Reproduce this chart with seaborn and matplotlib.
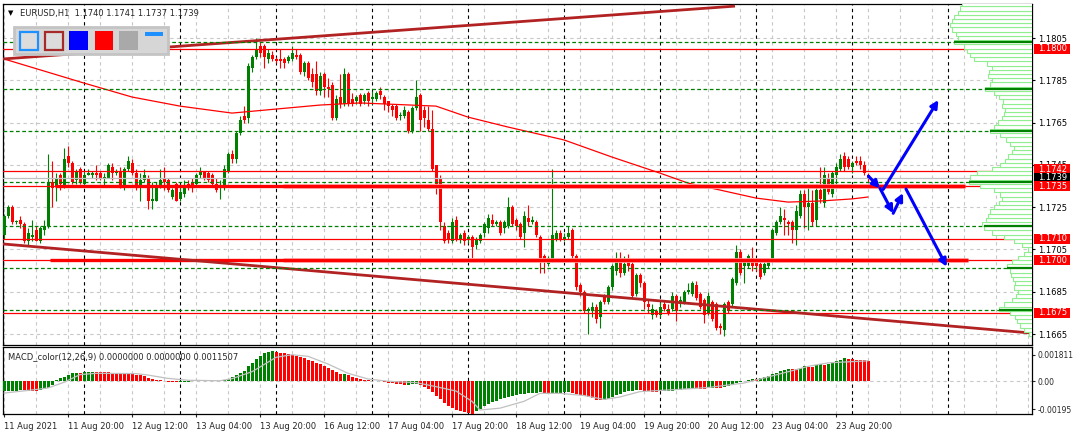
import numpy as np
import matplotlib
matplotlib.use("Agg")
import matplotlib.pyplot as plt
import seaborn as sns
from matplotlib.patches import Rectangle
from matplotlib.transforms import blended_transform_factory

# ------------------------------------------------------------------ data
opens = [1.1712,1.1721,1.1725,1.1718,1.1719,1.1717,1.1709,1.1711,1.1714,1.1709,
 1.1714,1.1716,1.1737,1.1735,1.1740,1.1735,1.1749,1.1746,1.1738,1.1743,
 1.1736,1.1740,1.1740,1.1741,1.1741,1.1739,1.1739,1.1744,1.1741,1.1742,
 1.1735,1.1743,1.1746,1.1741,1.1735,1.1738,1.1739,1.1728,1.1728,1.1735,
 1.1739,1.1738,1.1730,1.1736,1.1729,1.1731,1.1736,1.1737,1.1736,1.1740,
 1.1742,1.1741,1.1740,1.1736,1.1734,1.1735,1.1742,1.1750,1.1748,1.1760,
 1.1768,1.1767,1.1791,1.1796,1.1801,1.1801,1.1795,1.1797,1.1795,1.1795,
 1.1795,1.1794,1.1795,1.1797,1.1797,1.1789,1.1793,1.1788,1.1788,1.1780,
 1.1788,1.1782,1.1783,1.1767,1.1777,1.1774,1.1788,1.1776,1.1775,1.1778,
 1.1775,1.1779,1.1776,1.1776,1.1780,1.1777,1.1775,1.1773,1.1773,1.1768,
 1.1768,1.1770,1.1761,1.1772,1.1778,1.1771,1.1766,1.1762,1.1745,1.1739,
 1.1716,1.1713,1.1709,1.1719,1.1710,1.1713,1.1710,1.1711,1.1707,1.1709,
 1.1713,1.1715,1.1719,1.1717,1.1718,1.1715,1.1716,1.1725,1.1719,1.1717,
 1.1713,1.1720,1.1718,1.1718,1.1711,1.1702,1.1698,1.1700,1.1710,1.1713,
 1.1710,1.1711,1.1714,1.1702,1.1688,1.1685,1.1676,1.1676,1.1678,1.1673,
 1.1683,1.1680,1.1687,1.1695,1.1699,1.1694,1.1700,1.1698,1.1684,1.1693,
 1.1689,1.1679,1.1674,1.1676,1.1674,1.1679,1.1677,1.1677,1.1683,1.1679,
 1.1680,1.1685,1.1684,1.1688,1.1684,1.1681,1.1675,1.1680,1.1679,1.1669,
 1.1667,1.1680,1.1679,1.1689,1.1704,1.1697,1.1697,1.1701,1.1699,1.1698,
 1.1694,1.1697,1.1700,1.1713,1.1718,1.1720,1.1718,1.1718,1.1714,1.1721,
 1.1731,1.1725,1.1727,1.1719,1.1733,1.1727,1.1739,1.1731,1.1740,1.1743,
 1.1749,1.1748,1.1744,1.1747,1.1747,1.1745,1.1740]
highs = [1.1722,1.1726,1.1726,1.1719,1.1721,1.1718,1.1715,1.1719,1.1716,1.1716,
 1.1719,1.1750,1.1747,1.1741,1.1741,1.1753,1.1754,1.1747,1.1743,1.1744,
 1.1742,1.1743,1.1742,1.1745,1.1742,1.1741,1.1746,1.1746,1.1743,1.1744,
 1.1744,1.1749,1.1748,1.1743,1.1741,1.1743,1.1740,1.1737,1.1737,1.1743,
 1.1744,1.1739,1.1734,1.1737,1.1736,1.1738,1.1738,1.1739,1.1741,1.1744,
 1.1742,1.1742,1.1741,1.1739,1.1738,1.1745,1.1751,1.1752,1.1761,1.1768,
 1.1773,1.1793,1.1797,1.1805,1.1803,1.1802,1.1800,1.1799,1.1796,1.1800,
 1.1796,1.1797,1.1801,1.1800,1.1798,1.1794,1.1794,1.1791,1.1794,1.1789,
 1.1789,1.1786,1.1784,1.1778,1.1788,1.1791,1.1789,1.1779,1.1778,1.1779,
 1.1779,1.1780,1.1780,1.1780,1.1782,1.1778,1.1775,1.1774,1.1774,1.1770,
 1.1773,1.1771,1.1773,1.1785,1.1779,1.1773,1.1773,1.1771,1.1745,1.1740,
 1.1718,1.1714,1.1720,1.1721,1.1713,1.1714,1.1712,1.1712,1.1711,1.1713,
 1.1718,1.1722,1.1722,1.1719,1.1719,1.1719,1.1730,1.1726,1.1720,1.1718,
 1.1723,1.1726,1.1721,1.1719,1.1712,1.1703,1.1702,1.1743,1.1714,1.1714,
 1.1713,1.1716,1.1715,1.1703,1.1689,1.1686,1.1678,1.1680,1.1679,1.1681,
 1.1684,1.1688,1.1698,1.1704,1.1704,1.1702,1.1703,1.1699,1.1694,1.1694,
 1.1690,1.1681,1.1679,1.1677,1.1680,1.1681,1.1679,1.1685,1.1684,1.1683,
 1.1686,1.1689,1.1690,1.1690,1.1685,1.1682,1.1685,1.1681,1.1680,1.1670,
 1.1680,1.1681,1.1692,1.1707,1.1705,1.1700,1.1703,1.1706,1.1701,1.1699,
 1.1699,1.1700,1.1715,1.1719,1.1725,1.1724,1.1719,1.1719,1.1726,1.1733,
 1.1733,1.1735,1.1733,1.1736,1.1744,1.1744,1.1741,1.1742,1.1746,1.1750,
 1.1751,1.1749,1.1747,1.1749,1.1749,1.1747,1.1741]
lows = [1.1710,1.1720,1.1717,1.1717,1.1715,1.1708,1.1707,1.1709,1.1709,1.1708,
 1.1712,1.1715,1.1725,1.1728,1.1733,1.1734,1.1744,1.1736,1.1736,1.1736,
 1.1735,1.1740,1.1739,1.1738,1.1738,1.1735,1.1739,1.1738,1.1740,1.1734,
 1.1733,1.1742,1.1740,1.1733,1.1728,1.1737,1.1724,1.1724,1.1728,1.1734,
 1.1733,1.1732,1.1729,1.1728,1.1728,1.1730,1.1733,1.1732,1.1735,1.1739,
 1.1738,1.1737,1.1735,1.1732,1.1729,1.1733,1.1741,1.1746,1.1746,1.1759,
 1.1765,1.1765,1.1789,1.1795,1.1796,1.1791,1.1793,1.1794,1.1793,1.1791,
 1.1791,1.1793,1.1794,1.1795,1.1788,1.1787,1.1785,1.1782,1.1778,1.1778,
 1.1777,1.1777,1.1766,1.1766,1.1772,1.1773,1.1773,1.1773,1.1774,1.1773,
 1.1774,1.1773,1.1774,1.1775,1.1776,1.1771,1.1770,1.1768,1.1766,1.1766,
 1.1767,1.1760,1.1760,1.1771,1.1761,1.1763,1.1761,1.1742,1.1731,1.1714,
 1.1708,1.1708,1.1708,1.1709,1.1708,1.1707,1.1708,1.1701,1.1705,1.1708,
 1.1711,1.1713,1.1716,1.1716,1.1712,1.1713,1.1715,1.1716,1.1714,1.1710,
 1.1706,1.1716,1.1717,1.1711,1.1694,1.1694,1.1697,1.1699,1.1709,1.1709,
 1.1709,1.1710,1.1701,1.1686,1.1683,1.1675,1.1665,1.1673,1.1670,1.1668,
 1.1679,1.1679,1.1686,1.1693,1.1692,1.1693,1.1695,1.1682,1.1683,1.1687,
 1.1677,1.1675,1.1672,1.1673,1.1673,1.1676,1.1674,1.1676,1.1671,1.1678,
 1.1679,1.1684,1.1683,1.1681,1.1677,1.1670,1.1674,1.1671,1.1667,1.1665,
 1.1664,1.1675,1.1678,1.1688,1.1693,1.1689,1.1696,1.1695,1.1695,1.1691,
 1.1693,1.1696,1.1699,1.1712,1.1717,1.1712,1.1712,1.1708,1.1707,1.1720,
 1.1715,1.1714,1.1716,1.1716,1.1727,1.1725,1.1731,1.1730,1.1734,1.1742,
 1.1742,1.1743,1.1741,1.1745,1.1743,1.1740,1.1737]
closes = [1.1721,1.1725,1.1718,1.1718,1.1717,1.1709,1.1713,1.1712,1.1709,1.1715,
 1.1716,1.1737,1.1734,1.1739,1.1736,1.1748,1.1746,1.1737,1.1742,1.1737,
 1.1740,1.1741,1.1741,1.1740,1.1739,1.1739,1.1745,1.1741,1.1742,1.1735,
 1.1743,1.1747,1.1741,1.1735,1.1738,1.1740,1.1728,1.1729,1.1734,1.1738,
 1.1737,1.1733,1.1733,1.1728,1.1732,1.1735,1.1735,1.1735,1.1740,1.1742,
 1.1739,1.1738,1.1736,1.1733,1.1735,1.1743,1.1750,1.1748,1.1760,1.1766,
 1.1766,1.1792,1.1796,1.1800,1.1798,1.1796,1.1798,1.1795,1.1794,1.1794,
 1.1793,1.1796,1.1798,1.1796,1.1789,1.1793,1.1786,1.1784,1.1780,1.1787,
 1.1782,1.1781,1.1767,1.1776,1.1774,1.1788,1.1774,1.1774,1.1777,1.1774,
 1.1778,1.1775,1.1777,1.1779,1.1778,1.1774,1.1773,1.1771,1.1767,1.1768,
 1.1771,1.1761,1.1772,1.1777,1.1766,1.1767,1.1762,1.1743,1.1736,1.1718,
 1.1709,1.1710,1.1718,1.1710,1.1712,1.1709,1.1711,1.1706,1.1710,1.1712,
 1.1717,1.1720,1.1717,1.1718,1.1713,1.1718,1.1725,1.1717,1.1716,1.1711,
 1.1721,1.1718,1.1719,1.1712,1.1701,1.1699,1.1701,1.1712,1.1713,1.1710,
 1.1711,1.1713,1.1702,1.1687,1.1685,1.1676,1.1677,1.1678,1.1672,1.1680,
 1.1680,1.1687,1.1697,1.1699,1.1694,1.1698,1.1697,1.1683,1.1693,1.1689,
 1.1680,1.1678,1.1677,1.1674,1.1678,1.1677,1.1675,1.1683,1.1676,1.1681,
 1.1685,1.1686,1.1689,1.1682,1.1678,1.1674,1.1683,1.1672,1.1668,1.1668,
 1.1679,1.1676,1.1691,1.1704,1.1694,1.1699,1.1702,1.1697,1.1697,1.1692,
 1.1698,1.1699,1.1714,1.1718,1.1721,1.1719,1.1717,1.1714,1.1723,1.1731,
 1.1725,1.1727,1.1718,1.1733,1.1729,1.1740,1.1732,1.1741,1.1744,1.1748,
 1.1744,1.1744,1.1746,1.1746,1.1745,1.1741,1.1739]

# moving average (red thin line) sampled along the chart
ma_idx = [0, 20, 32, 44, 57, 68, 79, 89, 108, 116, 126, 140, 152, 164, 171, 179, 188, 196, 204, 212, 216]
ma_val = [1.17951, 1.17837, 1.17771, 1.17728, 1.17695, 1.17714, 1.17733, 1.17743, 1.17728, 1.17676,
          1.17629, 1.17568, 1.17487, 1.17411, 1.17364, 1.17331, 1.17293, 1.17274, 1.17279, 1.17289, 1.17298]

# MACD histogram in units of 1e-5
macd_hist_e5 = [-72,-70,-68,-66,-64,-65,-66,-67,-68,-62,
 -55,-45,-30,7,18,30,42,52,58,57,
 59,62,63,62,61,60,59,58,57,55,
 53,51,48,44,40,32,24,16,10,5,
 0,-4,-7,-9,-8,-7,-6,-2,2,4,
 3,1,-1,-2,0,4,12,25,40,55,
 70,100,125,150,175,192,202,205,200,196,
 192,186,180,172,164,155,146,136,125,114,
 102,90,76,60,48,50,38,28,20,14,
 9,5,2,1,-2,-6,-11,-16,-20,-24,
 -27,-25,-22,-20,-28,-40,-55,-75,-100,-125,
 -150,-170,-186,-198,-208,-216,-221,-224,-205,-190,
 -175,-160,-148,-136,-126,-118,-108,-102,-96,-92,
 -88,-85,-83,-81,-79,-84,-88,-85,-82,-80,
 -78,-77,-82,-90,-98,-106,-113,-120,-128,-134,
 -130,-122,-110,-98,-88,-78,-70,-66,-63,-64,
 -68,-72,-74,-75,-72,-70,-68,-66,-63,-60,
 -56,-52,-48,-50,-52,-54,-50,-45,-48,-50,
 -42,-35,-25,-12,-5,3,10,16,14,20,
 28,36,46,58,70,78,84,82,80,90,
 100,98,95,108,115,112,118,128,138,148,
 155,152,150,148,145,142,140]
# MACD signal line (gray), units of 1e-5
sig_idx = [0,7,11,15,19,23,33,36,41,46,54,57,62,65,68,72,76,81,86,91,96,103,108,113,117,119,124,
           130,134,139,145,150,154,159,168,176,185,188,193,198,201,206,216]
sig_e5 = [-83,-62,-48,-9,44,53,51,41,18,5,2,16,64,113,163,181,170,117,53,14,-2,-11,-39,-69,-140,-200,-187,
          -140,-85,-85,-100,-127,-110,-73,-59,-45,-14,7,42,78,101,125,139]

# time axis
xt_idx = [0, 16, 32, 48, 64, 80, 96, 112, 128, 144, 160, 176, 192, 208]
xt_lab = ["11 Aug 2021", "11 Aug 20:00", "12 Aug 12:00", "13 Aug 04:00", "13 Aug 20:00",
          "16 Aug 12:00", "17 Aug 04:00", "17 Aug 20:00", "18 Aug 12:00", "19 Aug 04:00",
          "19 Aug 20:00", "20 Aug 12:00", "23 Aug 04:00", "23 Aug 20:00"]
day_start_idx = [20, 44, 68, 92, 116, 140, 164, 188, 212, 236]

# price axis
price_ticks = [1.1665, 1.1685, 1.1705, 1.1725, 1.1745, 1.1765, 1.1785, 1.1805]
thin_levels = [1.1800, 1.1742, 1.1735, 1.1710, 1.1700, 1.1675]
thick_levels = [1.1735, 1.1700]
thick_start = [12.75, 11.5]
thick_end = [240.25, 241.0]
bid_price = 1.1739
label_prices = [1.1800, 1.1742, 1.1739, 1.1735, 1.1710, 1.1700, 1.1675]
label_kinds = ["level", "level", "bid", "level", "level", "level", "level"]
label_shift_px = [0, -2, 0, 0, 0, 0, 0]

# trend lines
trend_x = [[-0.25, 182.75], [-0.25, 256.5]]
trend_y = [[1.17951, 1.18201], [1.17076, 1.16655]]

# forecast arrows (bar index, price)
arrow_from = [(216.1, 1.17397), (219.8, 1.17334), (219.0, 1.17339), (222.3, 1.17221), (225.5, 1.17336)]
arrow_to = [(219.0, 1.17339), (233.6, 1.17757), (222.3, 1.17221), (224.75, 1.17317), (235.7, 1.16968)]

# volume profile (rows of 0.0002 from 1.1665)
profile_start = 1.1665
profile_step = 0.0002
profile_vol = [3,8,12,15,17,22,33,28,20,16,
 14,18,17,19,21,22,25,20,14,8,
 4,10,18,28,40,48,50,46,44,42,
 38,33,30,32,38,52,63,62,55,40,
 32,27,24,20,18,22,26,32,42,38,
 34,30,28,27,30,29,33,38,47,42,
 40,44,43,40,45,58,62,65,68,78,
 74,76,80,82,80,78,74,72,70]
poc_levels = [1.1803, 1.17807, 1.1761, 1.17368, 1.17159, 1.16962, 1.16765]

# ------------------------------------------------------------------ style
sns.set_style("white")
plt.rcParams['font.family'] = ['DejaVu Sans']
FS = 6

W, H = 1075, 438
fig = plt.figure(figsize=(W / 100, H / 100), dpi=100)
fig.patch.set_facecolor("white")

ax = fig.add_axes([3 / W, 1 - 345 / H, 1029 / W, 341 / H])
ax2 = fig.add_axes([3 / W, 1 - 414 / H, 1029 / W, 67 / H])
XMIN = -0.25
XMAX = XMIN + 1029 / 4.0
PY0, PY1 = 1.16598, 1.18211
MY0, MY1 = -0.002273, 0.002342

GREEN = "#008000"
RED = "#FF0000"
GRIDC = "#C8C8C8"
DASH = (0, (3, 3))

for a in (ax, ax2):
    a.set_xlim(XMIN, XMAX)
    a.set_facecolor("white")
    for s in a.spines.values():
        s.set_color("black")
        s.set_linewidth(0.9)
    for gx in np.arange(0, XMAX, 8):
        a.axvline(gx, color=GRIDC, lw=0.8, ls=DASH, zorder=0.5)
    for gx in day_start_idx:
        a.axvline(gx, color="black", lw=0.8, ls=DASH, zorder=0.6)
ax.set_ylim(PY0, PY1)
ax2.set_ylim(MY0, MY1)

for p in price_ticks:
    ax.axhline(p, color=GRIDC, lw=0.8, ls=DASH, zorder=0.5)
ax2.axhline(0, color=GRIDC, lw=0.8, ls=DASH, zorder=0.5)

# ------------------------------------------------------------------ candles
idx = np.arange(len(closes))
o = np.array(opens); c = np.array(closes); h = np.array(highs); l = np.array(lows)
up = c >= o
cols = np.where(up, GREEN, RED)
lo = np.minimum(l, np.minimum(o, c)); hi = np.maximum(h, np.maximum(o, c))
ax.vlines(idx, lo, hi, colors=cols, lw=0.8, zorder=3)
body_b = np.minimum(o, c)
body_h = np.maximum(np.abs(c - o), 0.00004)
ax.bar(idx, body_h, bottom=body_b, width=0.75, color=cols, lw=0, zorder=3.1)

# moving average
sns.lineplot(x=ma_idx, y=ma_val, ax=ax, color=RED, linewidth=0.9, legend=False, zorder=4)

# levels
ax.axhline(bid_price, color="#C0C0C0", lw=0.9, zorder=3.5)
for p in thin_levels:
    ax.axhline(p, color=RED, lw=0.9, zorder=4)
for p, s, e in zip(thick_levels, thick_start, thick_end):
    ax.hlines(p, 69.75, e, color="#FFB0B0", lw=3.4, zorder=4.1)
    ax.hlines(p, s, e, color=RED, lw=2.4, zorder=4.2)

# trend lines
for tx, ty in zip(trend_x, trend_y):
    ax.plot(tx, ty, color="#B22222", lw=2.0, zorder=4.3, solid_capstyle="butt")

# volume profile
prof_p = profile_start + profile_step * np.arange(len(profile_vol))
prof_w = np.array(profile_vol) / 4.0
ax.barh(prof_p, prof_w, left=XMAX - prof_w, height=profile_step, color="white",
        edgecolor="#90EE90", lw=0.8, zorder=5)
for p in poc_levels:
    k = int(np.argmin(np.abs(prof_p - p)))
    w = prof_w[k]
    ax.hlines(p, XMIN, XMAX - w, color=GREEN, lw=0.9, linestyles=(0, (3, 2)), zorder=4.4)
    ax.hlines(p, XMAX - w, XMAX, color=GREEN, lw=1.6, zorder=5.5)

# arrows
for (x0, y0), (x1, y1) in zip(arrow_from, arrow_to):
    ax.annotate("", xy=(x1, y1), xytext=(x0, y0),
                arrowprops=dict(arrowstyle="-|>", color="#0000FF", lw=2.2,
                                mutation_scale=11, shrinkA=0, shrinkB=0), zorder=7)

# price axis
ax.yaxis.tick_right()
ax.set_yticks(price_ticks)
ax.set_yticklabels([f"{p:.4f}" for p in price_ticks])
ax.tick_params(axis="y", right=True, left=False, length=2.5, width=0.8, pad=2, labelsize=FS, colors="black")
ax.tick_params(axis="x", bottom=False, labelbottom=False)
ax.set_xlabel(""); ax.set_ylabel("")

tr = blended_transform_factory(ax.transAxes, ax.transData)
unit_px = (PY1 - PY0) / 341
box_h = 10 * unit_px
for p, kind, sh in zip(label_prices, label_kinds, label_shift_px):
    fc = "black" if kind == "bid" else RED
    yc = p - sh * unit_px
    ax.add_patch(Rectangle(((1034 - 3) / 1029, yc - box_h / 2), 36 / 1029, box_h,
                           transform=tr, fc=fc, ec="none", clip_on=False, zorder=10))
    ax.text((1038 - 3) / 1029, yc, f"{p:.4f}", transform=tr, color="white", fontsize=FS,
            va="center", ha="left", clip_on=False, zorder=11)

# ------------------------------------------------------------------ MACD
mh = np.array(macd_hist_e5) * 1e-5
diff = np.diff(mh, prepend=mh[0] - 1e-9)
mcols = np.where(diff >= 0, GREEN, RED)
ax2.bar(np.arange(len(mh)), mh, width=0.75, color=mcols, lw=0, zorder=3)
sns.lineplot(x=sig_idx, y=np.array(sig_e5) * 1e-5, ax=ax2, color="#C0C0C0", linewidth=0.9,
             legend=False, zorder=4)
ax2.yaxis.tick_right()
ax2.set_yticks([-0.00195, 0.0, 0.001811])
ax2.set_yticklabels(["-0.00195", "0.00", "0.001811"])
ax2.tick_params(axis="y", right=True, left=False, length=2.5, width=0.8, pad=1.5, labelsize=5.5)
ax2.set_xticks(xt_idx)
ax2.set_xticklabels(xt_lab, ha="left")
ax2.tick_params(axis="x", bottom=True, length=2.5, width=0.8, pad=3, labelsize=FS)
ax2.set_xlabel(""); ax2.set_ylabel("")

# ------------------------------------------------------------------ overlays
def px(x, y):
    return x / W, 1 - y / H

fig.text(*px(8, 13.5), "\u25BC", fontsize=5, va="center", ha="left", color="black")
fig.text(*px(20, 13.5), "EURUSD,H1  1.1740 1.1741 1.1737 1.1739", fontsize=FS, va="center", ha="left")
fig.text(*px(8, 357), "MACD_color(12,26,9) 0.0000000 0.0000000 0.0011507", fontsize=FS,
         va="center", ha="left")

def frect(x0, y0, x1, y1, **kw):
    fig.add_artist(Rectangle(px(x0, y1), (x1 - x0) / W, (y1 - y0) / H,
                             transform=fig.transFigure, **kw))

frect(14, 27, 168, 54, fc="#D6D6D6", ec="#C4C4C4", lw=2, zorder=20)
frect(20, 32, 38, 50, fc="#DCDCDC", ec="#1E90FF", lw=1.6, zorder=21)
frect(45, 32, 63, 50, fc="#DCDCDC", ec="#A52A2A", lw=1.6, zorder=21)
frect(69, 31, 88, 50, fc="#0000FF", ec="none", zorder=21)
frect(95, 31, 113, 50, fc="#FF0000", ec="none", zorder=21)
frect(119, 31, 138, 50, fc="#A9A9A9", ec="none", zorder=21)
frect(145, 32, 163, 36, fc="#1E90FF", ec="none", zorder=21)

fig.savefig("out.png", dpi=100, facecolor="white")
